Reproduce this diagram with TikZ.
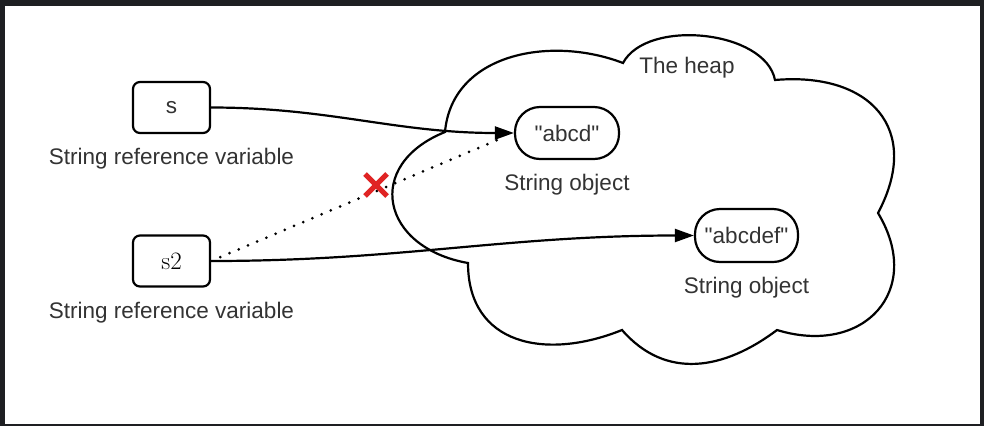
\documentclass[tikz,border=0pt]{standalone}
\usepackage{fontspec}
\setsansfont{Liberation Sans}
\usepackage{xcolor}
\usetikzlibrary{arrows.meta,positioning}
\definecolor{frame}{HTML}{1E1F22}
\definecolor{ink}{HTML}{333333}
\definecolor{xred}{HTML}{E02424}

\begin{document}
\begin{tikzpicture}[x=1pt,y=1pt,node distance=13pt,line width=2.2pt,
    >={Triangle[length=19pt,width=13pt]},font=\sffamily\fontsize{22.5}{27}\selectfont]
        \tikzstyle{varbox}=[rectangle,draw=black,rounded corners=7pt,minimum width=77pt,minimum height=51pt,inner sep=0pt,text=ink]
        \tikzstyle{objbox}=[rectangle,draw=black,rounded corners=25pt,minimum width=104pt,minimum height=52pt,inner sep=0pt,text=ink]
        \tikzstyle{caption}=[inner sep=0pt,text=ink]
        \tikzstyle{ref}=[->,black]
        \tikzstyle{oldref}=[black,line width=3pt,dash pattern=on 0pt off 10pt,line cap=round]
        \tikzstyle{crossmark}=[xred,line width=5pt]
        % frame
        \useasboundingbox (0,0) rectangle (984,-426);
        \fill[frame] (0,0) rectangle (984,-426);
        \fill[white] (5,-6) rectangle (980,-424);
        % the heap
        \coordinate (c1) at (445,-132);
        \coordinate (c2) at (623,-63);
        \coordinate (c3) at (775,-80);
        \coordinate (c4) at (878,-213);
        \coordinate (c5) at (777,-330);
        \coordinate (c6) at (622,-330);
        \coordinate (c7) at (468,-263);
        \draw[fill=white] (c1) to[out=85,in=159,looseness=1.05] (c2)
            to[out=62,in=101,looseness=0.85] (c3)
            to[out=5,in=62,looseness=1.45] (c4)
            to[out=-59,in=-17,looseness=1.5] (c5)
            to[out=-143,in=-49,looseness=1.1] (c6)
            to[out=-158,in=-90,looseness=1.25] (c7)
            to[out=170,in=-158,looseness=1.7] (c1) -- cycle;
        \node[caption,anchor=base] (heaplbl) at (687,-73) {The heap};
        % variables
        \node[varbox] (svar) at (171.5,-107.5) {s};
        \node[caption,below=of svar] (svarlbl) {String reference variable};
        \node[varbox,text=black,font=\rmfamily\fontsize{25}{30}\selectfont] (stwo) at (171.5,-261) {s2};
        \node[caption,below=of stwo] (stwolbl) {String reference variable};
        % objects
        \node[objbox] (abcd) at (567,-133) {\textquotedbl abcd\textquotedbl};
        \node[caption,below=of abcd] (abcdlbl) {String object};
        \node[objbox,minimum width=103pt,minimum height=53pt] (abcdef) at (746.5,-235.5) {\textquotedbl abcdef\textquotedbl};
        \node[caption,below=of abcdef] (abcdeflbl) {String object};
        % references
        \draw[oldref,shorten <=10pt,shorten >=12pt] (stwo.east) -- (abcd.west);
        \coordinate (cut) at (376,-185);
        \draw[crossmark] (cut) +(-11,-11) -- +(11,11) (cut) +(-11,11) -- +(11,-11);
        \draw[ref] (svar.east) to[out=0,in=180] (abcd.west);
        \draw[ref] (stwo.east) to[out=0,in=180] (abcdef.west);
\end{tikzpicture}
\end{document}
